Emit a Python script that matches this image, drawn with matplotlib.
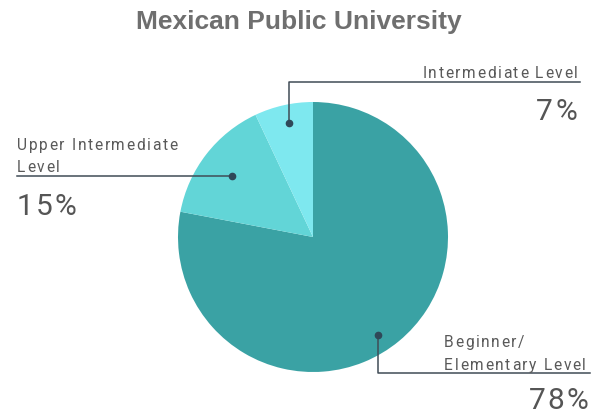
import numpy as np
import matplotlib
matplotlib.use("Agg")
import matplotlib.pyplot as plt
from matplotlib.font_manager import FontProperties, findfont, get_font

# ---- data ----
categories = ["Beginner/\nElementary Level", "Upper Intermediate\nLevel", "Intermediate Level"]
values = [78, 15, 7]
pct_labels = ["78%", "15%", "7%"]
colors = ["#3aa2a4", "#62d5d7", "#7ee8ef"]
title = "Mexican Public University"

W, H = 597, 414
DPI = 100
fig = plt.figure(figsize=(W / DPI, H / DPI), dpi=DPI)
ax = fig.add_axes([0, 0, 1, 1])

def Y(y):  # image y (top-down) -> data y
    return H - y

cx, cy, R = 313, Y(238), 135
wedges, _ = ax.pie(values, colors=colors, startangle=90, counterclock=False,
                   center=(cx, cy), radius=R, frame=True,
                   wedgeprops=dict(linewidth=0))
ax.set_xlim(0, W)
ax.set_ylim(0, H)
ax.axis("off")

LBL = 11.2
LSP = 1.6
PCT = 21.5
PSP = 2.0

def spaced_text(x, y, s, size, spacing, ha="left", color="#595959",
                family="Roboto", weight="normal"):
    prop = FontProperties(family=family, weight=weight, size=size)
    font = get_font(findfont(prop))
    font.set_size(size, 72)
    advs = []
    for c in s:
        g = font.load_char(ord(c))
        advs.append(g.linearHoriAdvance / 65536 * DPI / 72)
    total = sum(advs) + spacing * (len(s) - 1)
    x0 = x - total if ha == "right" else x
    for c, a in zip(s, advs):
        if c != " ":
            ax.text(x0, y, c, fontproperties=prop, color=color,
                    ha="left", va="baseline")
        x0 += a + spacing

line_c = "#404c56"
dot_c = "#2f4858"
def dot_polar(ang_deg, frac):
    a = np.deg2rad(ang_deg)
    return cx + frac * R * np.cos(a), cy + frac * R * np.sin(a)

# Beginner
bx, by = dot_polar(-56.4, 0.87)
ax.plot([bx, bx, 590], [by, Y(374), Y(374)], color=line_c, lw=1.1)
ax.plot(bx, by, "o", ms=4.5, color=dot_c)
b1, b2 = categories[0].split("\n")
spaced_text(444, Y(347), b1, LBL, LSP)
spaced_text(444, Y(370), b2, LBL, LSP)
spaced_text(588, Y(409), pct_labels[0], PCT, PSP, ha="right", color="#555555")

# Upper intermediate
ux, uy = dot_polar(143, 0.75)
ax.plot([17, ux], [uy, uy], color=line_c, lw=1.1)
ax.plot(ux, uy, "o", ms=4.5, color=dot_c)
u1, u2 = categories[1].split("\n")
spaced_text(17, Y(150), u1, LBL, LSP)
spaced_text(17, Y(172), u2, LBL, LSP)
spaced_text(17, Y(215), pct_labels[1], PCT, PSP, color="#555555")

# Intermediate
ix, iy = dot_polar(101.9, 0.86)
ax.plot([ix, ix, 580], [iy, Y(83), Y(83)], color=line_c, lw=1.1)
ax.plot(ix, iy, "o", ms=4.5, color=dot_c)
spaced_text(578, Y(78), categories[2], LBL, LSP, ha="right")
spaced_text(577, Y(120), pct_labels[2], PCT, PSP, ha="right", color="#555555")

ax.text(W / 2, Y(22), title, ha="center", va="center", fontsize=19,
        fontweight="bold", family="Liberation Sans", color="#6f6f6f")

fig.savefig("out.png", dpi=DPI)
